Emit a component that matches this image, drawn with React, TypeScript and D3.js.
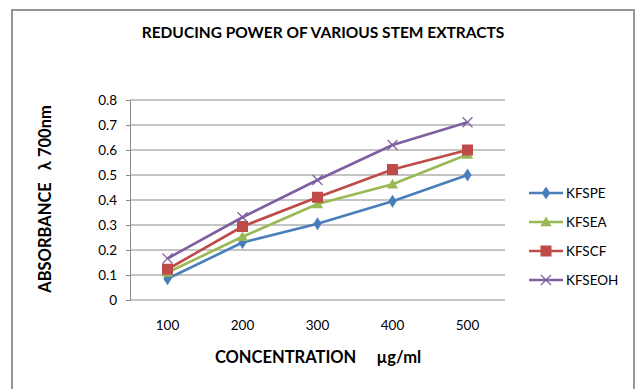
import React, { useRef, useEffect } from 'react'
import * as d3 from 'd3'

const concentrations = ['100', '200', '300', '400', '500']
const kfspe = [0.085, 0.23, 0.305, 0.395, 0.5]
const kfsea = [0.11, 0.253, 0.384, 0.463, 0.582]
const kfscf = [0.123, 0.294, 0.411, 0.522, 0.6]
const kfseoh = [0.166, 0.331, 0.48, 0.62, 0.711]
const yTicks = [0, 0.1, 0.2, 0.3, 0.4, 0.5, 0.6, 0.7, 0.8]

const seriesList = [
  { name: 'KFSPE', values: kfspe, color: '#4A7EBB', marker: 'diamond' },
  { name: 'KFSEA', values: kfsea, color: '#98B954', marker: 'triangle' },
  { name: 'KFSCF', values: kfscf, color: '#BE4B48', marker: 'square' },
  { name: 'KFSEOH', values: kfseoh, color: '#7D60A0', marker: 'x' }
]

const FONT = 'Lato, "Open Sans", sans-serif'

function drawMarker(g: any, kind: string, cx: number, cy: number, color: string) {
  if (kind === 'diamond') {
    g.append('path').attr('d', d3.symbol(d3.symbolDiamond, 60)()).attr('transform', `translate(${cx},${cy}) scale(1,0.9)`).attr('fill', color)
  } else if (kind === 'triangle') {
    g.append('path').attr('d', d3.symbol(d3.symbolTriangle, 55)()).attr('transform', `translate(${cx},${cy + 1})`).attr('fill', color)
  } else if (kind === 'square') {
    g.append('rect').attr('x', cx - 5.5).attr('y', cy - 5.5).attr('width', 11).attr('height', 11).attr('fill', color)
  } else {
    g.append('path').attr('d', `M${cx - 5},${cy - 5}L${cx + 5},${cy + 5}M${cx - 5},${cy + 5}L${cx + 5},${cy - 5}`)
      .attr('stroke', color).attr('stroke-width', 1.2).attr('fill', 'none')
  }
}

export default function App() {
  const canvas = useRef<SVGSVGElement>(null)

  useEffect(() => {
    const svg = d3.select(canvas.current)
    svg.selectAll('*').remove()

    const left = 130, right = 505, top = 100, bottom = 300

    svg.append('rect').attr('x', 12).attr('y', 10).attr('width', 622).attr('height', 400)
      .attr('fill', 'white').attr('stroke', '#8c8c8c').attr('stroke-width', 1.8)

    const x = d3.scaleBand().domain(concentrations).range([left, right])
    const y = d3.scaleLinear().domain([0, 0.8]).range([bottom, top])

    // gridlines
    svg.append('g').selectAll('line').data(yTicks).enter().append('line')
      .attr('x1', left).attr('x2', right)
      .attr('y1', (d) => y(d)).attr('y2', (d) => y(d))
      .attr('stroke', '#8a8a8a').attr('stroke-width', 1)

    const yAxis = svg.append('g').attr('transform', `translate(${left},0)`)
      .call(d3.axisLeft(y).tickValues(yTicks).tickSize(4).tickPadding(9).tickFormat((d: any) => d === 0 ? '0' : d3.format('.1f')(d)))
    yAxis.select('.domain').attr('stroke', '#8a8a8a')
    yAxis.selectAll('line').attr('stroke', '#8a8a8a')
    yAxis.selectAll('text').attr('font-family', FONT).attr('font-size', 13.5).attr('fill', '#000')

    const xAxis = svg.append('g').attr('transform', `translate(0,${bottom})`)
      .call(d3.axisBottom(x).tickSize(0).tickPadding(20))
    xAxis.select('.domain').remove()
    xAxis.selectAll('text').attr('font-family', FONT).attr('font-size', 13.5).attr('fill', '#000')

    const line = d3.line<number>()
      .x((d, i) => (x(concentrations[i]) as number) + x.bandwidth() / 2)
      .y((d) => y(d))

    seriesList.forEach((s) => {
      svg.append('path').datum(s.values).attr('d', line)
        .attr('fill', 'none').attr('stroke', s.color).attr('stroke-width', 2.6).attr('stroke-linejoin', 'round')
      const mg = svg.append('g')
      s.values.forEach((v, i) => {
        drawMarker(mg, s.marker, (x(concentrations[i]) as number) + x.bandwidth() / 2, y(v), s.color)
      })
    })

    // legend
    const lg = svg.append('g')
    seriesList.forEach((s, i) => {
      const ly = 193 + i * 29
      lg.append('line').attr('x1', 529).attr('x2', 563).attr('y1', ly).attr('y2', ly)
        .attr('stroke', s.color).attr('stroke-width', 2.6)
      drawMarker(lg, s.marker, 546, ly, s.color)
      lg.append('text').attr('x', 566).attr('y', ly).attr('dy', '0.35em')
        .attr('font-family', FONT).attr('font-size', 13.5).attr('fill', '#000').text(s.name)
    })

    svg.append('text').attr('x', 323).attr('y', 38).attr('text-anchor', 'middle')
      .attr('font-family', FONT).attr('font-weight', 'bold').attr('font-size', 15.5).attr('fill', '#000')
      .text('REDUCING POWER OF VARIOUS STEM EXTRACTS')

    svg.append('text').attr('x', 318).attr('y', 363).attr('text-anchor', 'middle')
      .attr('font-family', FONT).attr('font-weight', 'bold').attr('font-size', 16.5).attr('fill', '#000')
      .style('white-space', 'pre')
      .text('CONCENTRATION     µg/ml')

    svg.append('text').attr('transform', 'translate(51,199) rotate(-90)').attr('text-anchor', 'middle')
      .attr('font-family', FONT).attr('font-weight', 'bold').attr('font-size', 16.5).attr('fill', '#000')
      .style('white-space', 'pre')
      .text('ABSORBANCE   λ 700nm')
  }, [])

  return (
    <svg ref={canvas} width={637} height={389} style={{ position: 'absolute', left: 0, top: 0, display: 'block' }} />
  )
}
